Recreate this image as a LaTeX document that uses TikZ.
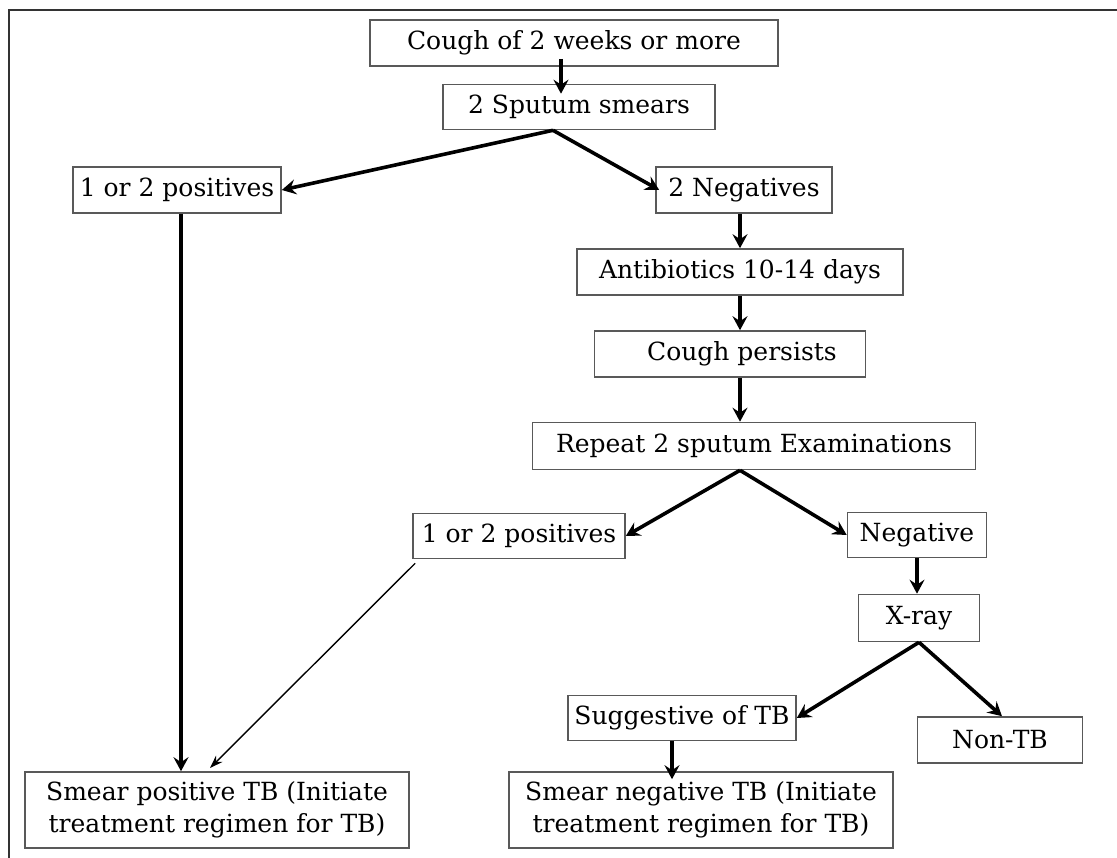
\documentclass[tikz,border=0pt]{standalone}
\usepackage{fontspec}
\setmainfont{DejaVu Serif}
\usetikzlibrary{arrows.meta}

\begin{document}
\begin{tikzpicture}[x=1pt, y=-1pt,
    boite/.style={draw=black!65, line width=1.6pt, inner sep=1pt, align=center,
                  font=\fontsize{25}{32}\selectfont},
    fleche/.style={-{Stealth[length=14pt, width=15pt, inset=5pt]}, line width=3.6pt},
    flechefine/.style={-{Stealth[length=13pt, width=9pt]}, line width=1.4pt}]
    \useasboundingbox (0,0) rectangle (1117,858);
    % Cadre
    \draw[line width=2.5pt, black!80] (1117,10) -- (9,10) -- (9,858);
    % Boites
    \node[boite, minimum width=408, minimum height=46] at (574,43)  (toux)     {Cough of 2 weeks or more};
    \node[boite, minimum width=272, minimum height=45] at (579,107) (crachats) {2 Sputum smears};
    \node[boite, minimum width=208, minimum height=46] at (177,190) (pos)      {1 or 2 positives};
    \node[boite, minimum width=176, minimum height=46] at (744,190) (neg)      {2 Negatives};
    \node[boite, minimum width=326, minimum height=46] at (740,272) (antib)    {Antibiotics 10-14 days};
    \node[boite, minimum width=271, minimum height=46] at (730,354) (persiste) {\hspace*{24pt}Cough persists};
    \node[boite, minimum width=443, minimum height=47] at (754,446) (repete)   {Repeat 2 sputum Examinations};
    \node[boite, minimum width=212, minimum height=45] at (519,536) (posbis)   {1 or 2 positives};
    \node[boite, minimum width=139, minimum height=45] at (917,535) (negatif)  {Negative};
    \node[boite, minimum width=121, minimum height=47] at (919,618) (radio)    {X-ray};
    \node[boite, minimum width=228, minimum height=45] at (682,718) (suggere)  {Suggestive of TB};
    \node[boite, minimum width=165, minimum height=46] at (1000,740) (nontb)   {Non-TB};
    \node[boite, minimum width=384, minimum height=76] at (217,810) (frottpos) {Smear positive TB (Initiate\\ treatment regimen for TB)};
    \node[boite, minimum width=384, minimum height=76] at (701,810) (frottneg) {Smear negative TB (Initiate\\ treatment regimen for TB)};
    \coordinate (bout) at (210,768);
    % Fleches
    \draw[fleche] ([xshift=-13pt,yshift=8pt]toux.south) -- ([xshift=-18pt,yshift=-10pt]crachats.north);
    \draw[fleche] ([xshift=-26pt]crachats.south) -- (pos.east);
    \draw[fleche] ([xshift=-26pt]crachats.south) -- ([xshift=4pt]neg.west);
    \draw[fleche] (neg.south -| antib.south) -- (antib.north);
    \draw[fleche] (antib.south) -- (antib.south |- persiste.north);
    \draw[fleche] (antib.south |- persiste.south) -- (antib.south |- repete.north);
    \draw[fleche] (antib.south |- repete.south) -- (posbis.east);
    \draw[fleche] (antib.south |- repete.south) -- (negatif.west);
    \draw[fleche] (negatif) -- (negatif |- radio.north);
    \draw[fleche] (radio.south) -- (suggere.east);
    \draw[fleche] (radio.south) -- ([xshift=2pt]nontb.north);
    \draw[fleche] ([xshift=-10pt]suggere.south) -- ([xshift=-10pt,yshift=-8pt]suggere.south |- frottneg.north);
    \draw[fleche] ([xshift=4pt]pos.south) -- ([xshift=4pt]pos.south |- frottpos.north);
    \draw[flechefine] ([xshift=3pt,yshift=-4pt]posbis.south west) -- (bout);
\end{tikzpicture}
\end{document}
